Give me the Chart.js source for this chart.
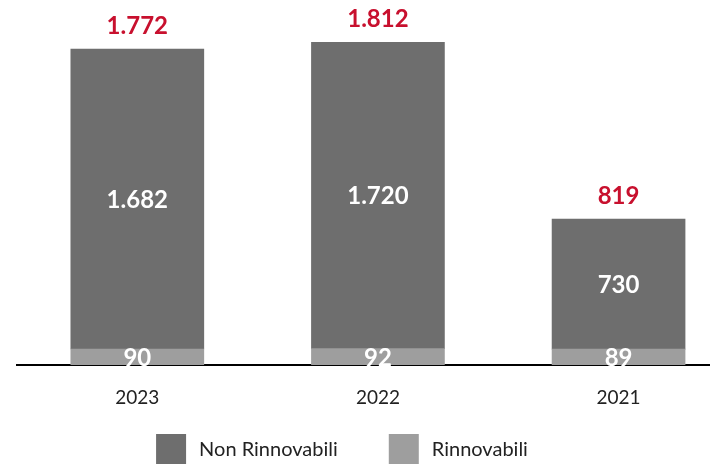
<!DOCTYPE html>
<html>
<head>
<meta charset="utf-8">
<script src="https://cdn.jsdelivr.net/npm/chart.js@4"></script>
<style>
  html, body { margin: 0; padding: 0; background: #fff; overflow: hidden; }
  #wrap { width: 710px; height: 465px; }
</style>
</head>
<body>
<div id="wrap"><canvas id="c" width="710" height="465"></canvas></div>
<script>
// Energy consumption by source, per year
const categories = ['2023', '2022', '2021'];
const nonRinnovabili = [1682, 1720, 730];
const rinnovabili = [90, 92, 89];
const seriesLabels = ['Non Rinnovabili', 'Rinnovabili'];

const totals = categories.map((_, i) => nonRinnovabili[i] + rinnovabili[i]);

const COLOR_DARK = '#6e6e6e';
const COLOR_LIGHT = '#9e9e9e';
const COLOR_RED = '#c8102e';
const FONT = 'Lato, "Open Sans", sans-serif';

// Italian-style thousands separator
const fmt = n => String(n).replace(/\B(?=(\d{3})+(?!\d))/g, '.');

const valueLabels = {
  id: 'valueLabels',
  afterDatasetsDraw(chart) {
    const ctx = chart.ctx;
    ctx.save();
    ctx.textAlign = 'center';
    ctx.font = '700 24px ' + FONT;
    chart.data.datasets.forEach((ds, di) => {
      const meta = chart.getDatasetMeta(di);
      meta.data.forEach((bar, i) => {
        const p = bar.getProps(['x', 'y', 'base'], true);
        ctx.fillStyle = '#fff';
        ctx.textBaseline = 'middle';
        ctx.fillText(fmt(ds.data[i].y), p.x, (p.y + p.base) / 2 + 1);
      });
    });
    const topMeta = chart.getDatasetMeta(chart.data.datasets.length - 1);
    topMeta.data.forEach((bar, i) => {
      const p = bar.getProps(['x', 'y'], true);
      ctx.fillStyle = COLOR_RED;
      ctx.textBaseline = 'alphabetic';
      ctx.fillText(fmt(totals[i]), p.x, p.y - 15);
    });
    ctx.restore();
  }
};

const boxLegend = {
  id: 'boxLegend',
  afterDraw(chart) {
    const ctx = chart.ctx;
    const box = 30, textGap = 13, itemGap = 51, top = 434, centerX = 342;
    ctx.save();
    ctx.font = '400 20px ' + FONT;
    const items = seriesLabels.map(label => {
      const ds = chart.data.datasets.find(d => d.label === label);
      return { label, color: ds.backgroundColor, w: ctx.measureText(label).width };
    });
    const total = items.reduce((s, it) => s + box + textGap + it.w, 0) + itemGap * (items.length - 1);
    let x = centerX - total / 2;
    ctx.textBaseline = 'middle';
    ctx.textAlign = 'left';
    items.forEach(it => {
      ctx.fillStyle = it.color;
      ctx.fillRect(x, top, box, box);
      ctx.fillStyle = '#222';
      ctx.fillText(it.label, x + box + textGap, top + box / 2 + 1);
      x += box + textGap + it.w + itemGap;
    });
    ctx.restore();
  }
};

new Chart(document.getElementById('c'), {
  type: 'bar',
  data: {
    datasets: [
      {
        label: seriesLabels[1],
        data: rinnovabili.map((v, i) => ({ x: i, y: v })),
        backgroundColor: COLOR_LIGHT,
        stack: 'energia'
      },
      {
        label: seriesLabels[0],
        data: nonRinnovabili.map((v, i) => ({ x: i, y: v })),
        backgroundColor: COLOR_DARK,
        stack: 'energia'
      }
    ]
  },
  options: {
    responsive: false,
    animation: false,
    layout: { padding: { left: 17, right: 0, top: 42, bottom: 0 } },
    datasets: { bar: { barThickness: 133 } },
    scales: {
      x: {
        type: 'linear',
        stacked: true,
        offset: false,
        min: -0.5,
        max: 2.38,
        z: 1,
        grid: { display: false, drawTicks: false },
        border: { display: true, color: '#000', width: 2 },
        afterBuildTicks: s => { s.ticks = categories.map((_, i) => ({ value: i })); },
        afterFit: s => { s.height = 100; },
        ticks: {
          padding: 21,
          color: '#222',
          font: { family: FONT, size: 19 },
          autoSkip: false,
          maxRotation: 0,
          callback: v => categories[v] ?? ''
        }
      },
      y: {
        display: false,
        stacked: true,
        min: 0,
        max: Math.max(...totals)
      }
    },
    plugins: {
      legend: { display: false },
      tooltip: { enabled: false }
    }
  },
  plugins: [valueLabels, boxLegend]
});
</script>
</body>
</html>
